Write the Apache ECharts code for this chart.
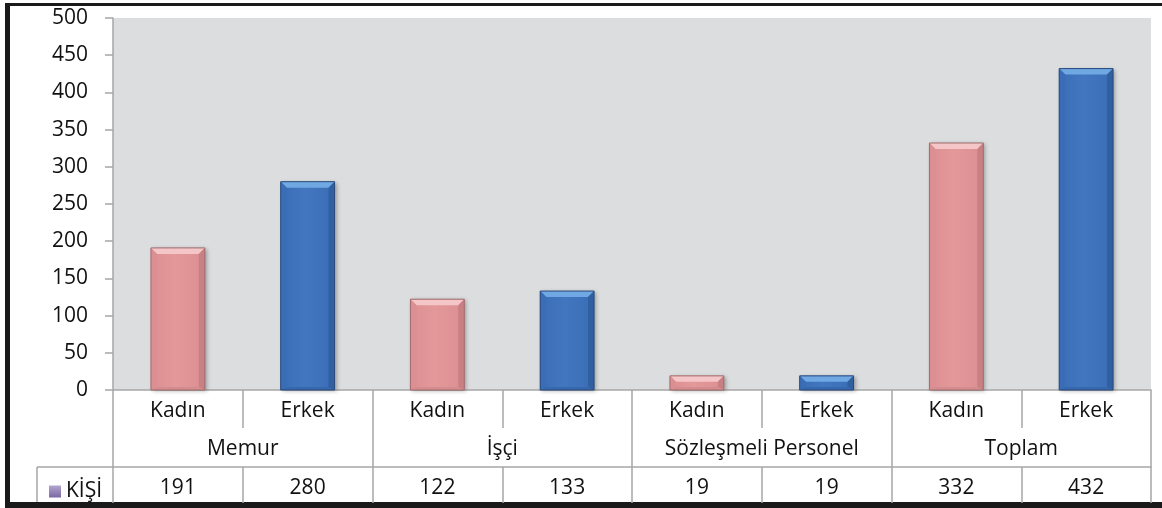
<!DOCTYPE html>
<html>
<head>
<meta charset="utf-8">
<script src="https://cdn.jsdelivr.net/npm/echarts@6/dist/echarts.min.js"></script>
<style>
  html, body { margin: 0; padding: 0; background: #fff; }
  #chart { width: 1162px; height: 508px; }
</style>
</head>
<body>
<div id="chart"></div>
<script>
// veriler
var categories = ['Kadın', 'Erkek', 'Kadın', 'Erkek', 'Kadın', 'Erkek', 'Kadın', 'Erkek'];
var groups = ['Memur', 'İşçi', 'Sözleşmeli Personel', 'Toplam'];
var values = [191, 280, 122, 133, 19, 19, 332, 432];
var seriesName = 'KİŞİ';
var yTicks = { min: 0, max: 500, step: 50 };

var FONT = 'Open Sans';
var TXT = '#111';
var LINE = '#a6a6a6';

// pembe / mavi, kabartma renkleri
var palette = [
    { main: '#e3989a', light: '#f4c6c7', side: '#dc8f92', dark: '#c88083', bottom: '#d48c8e', edge: '#a26c6e' },
    { main: '#4277bf', light: '#6fa8e2', side: '#3a6db6', dark: '#30609f', bottom: '#3767ac', edge: '#2a4a7c' }
];

function renderBar(params, api) {
    var x = api.value(0), v = api.value(1);
    var top = api.coord([x, v]);
    var base = api.coord([x, 0]);
    var w = api.size([1, 0])[0] * 0.415;
    var l = top[0] - w / 2, r = top[0] + w / 2, t = top[1], b = base[1];
    var bv = Math.min(6, (b - t) / 2);
    var bb = Math.min(3, (b - t) / 3);
    var c = palette[params.dataIndex % 2];
    return {
        type: 'group',
        children: [
            {
                type: 'rect',
                shape: { x: l, y: t, width: w, height: b - t },
                style: {
                    fill: new echarts.graphic.LinearGradient(0, 0, 1, 0, [
                        { offset: 0, color: c.side },
                        { offset: 0.45, color: c.main },
                        { offset: 1, color: c.side }
                    ]),
                    shadowBlur: 4, shadowOffsetX: 2, shadowOffsetY: 1,
                    shadowColor: 'rgba(0,0,0,0.3)'
                }
            },
            { type: 'polygon', shape: { points: [[l, t], [r, t], [r - bv, t + bv], [l + bv, t + bv]] },
              style: { fill: c.light } },
            { type: 'polygon', shape: { points: [[l, t], [l + bv, t + bv], [l + bv, b - bb], [l, b]] },
              style: { fill: c.side } },
            { type: 'polygon', shape: { points: [[r, t], [r, b], [r - bv, b - bb], [r - bv, t + bv]] },
              style: { fill: c.dark } },
            { type: 'polygon', shape: { points: [[l, b], [r, b], [r - bv, b - bb], [l + bv, b - bb]] },
              style: { fill: c.bottom } },
            { type: 'rect', shape: { x: l, y: t, width: w, height: b - t },
              style: { fill: 'none', stroke: c.edge, lineWidth: 1 } }
        ]
    };
}

var chart = echarts.init(document.getElementById('chart'));
chart.setOption({
    animation: false,
    backgroundColor: '#fff',
    textStyle: { fontFamily: FONT },
    grid: {
        left: 113, right: 11, top: 18, bottom: 118,
        show: true, backgroundColor: '#dcdddf', borderWidth: 0
    },
    legend: {
        data: [{ name: seriesName, itemStyle: { color: new echarts.graphic.LinearGradient(0, 0, 0, 1, [
            { offset: 0, color: '#b3a6cf' }, { offset: 1, color: '#7a67a3' }]) } }],
        icon: 'rect', itemWidth: 12, itemHeight: 12, itemGap: 4,
        left: 44, top: 476, selectedMode: false,
        textStyle: { fontFamily: FONT, fontSize: 21, color: TXT }
    },
    xAxis: [
        {
            type: 'category', data: categories, position: 'bottom',
            axisLine: { lineStyle: { color: LINE, width: 1.5 } },
            axisTick: { show: true, length: 38, interval: 0, lineStyle: { color: LINE, width: 1.5 } },
            axisLabel: { interval: 0, margin: 11, fontSize: 21, color: TXT, fontFamily: FONT }
        },
        {
            type: 'category', data: groups, position: 'bottom',
            axisLine: { show: false },
            axisTick: { show: true, length: 77, interval: 0, lineStyle: { color: LINE, width: 1.5 } },
            axisLabel: { interval: 0, margin: 49, fontSize: 21, color: TXT, fontFamily: FONT }
        },
        {
            type: 'category', data: values.map(String), position: 'bottom', offset: 77,
            axisLine: { show: true, lineStyle: { color: LINE, width: 1.5 } },
            axisTick: { show: true, length: 36, interval: 0, lineStyle: { color: LINE, width: 1.5 } },
            axisLabel: { interval: 0, margin: 11, fontSize: 21, color: TXT, fontFamily: FONT }
        }
    ],
    yAxis: {
        type: 'value', min: yTicks.min, max: yTicks.max, interval: yTicks.step,
        axisLine: { show: true, lineStyle: { color: LINE, width: 1.5 } },
        axisTick: { show: true, length: 8, lineStyle: { color: LINE, width: 1.5 } },
        splitLine: { show: false },
        axisLabel: { margin: 25, fontSize: 21, color: TXT, fontFamily: FONT }
    },
    series: [{
        name: seriesName,
        type: 'custom',
        xAxisIndex: 0,
        renderItem: renderBar,
        encode: { x: 0, y: 1 },
        data: values.map(function (v, i) { return [i, v]; })
    }],
    graphic: [
        // tablo sol hücresi
        { type: 'line', shape: { x1: 37, y1: 467, x2: 113, y2: 467 }, style: { stroke: LINE, lineWidth: 1.5 } },
        { type: 'line', shape: { x1: 37, y1: 467, x2: 37, y2: 503 }, style: { stroke: LINE, lineWidth: 1.5 } },
        // siyah çerçeve
        { type: 'rect', shape: { x: 5, y: 3, width: 1157, height: 3 }, style: { fill: '#1a1a1a' } },
        { type: 'rect', shape: { x: 5, y: 3, width: 5, height: 505 }, style: { fill: '#1a1a1a' } },
        { type: 'rect', shape: { x: 5, y: 502, width: 1157, height: 6 }, style: { fill: '#1a1a1a' } }
    ]
});
</script>
</body>
</html>
